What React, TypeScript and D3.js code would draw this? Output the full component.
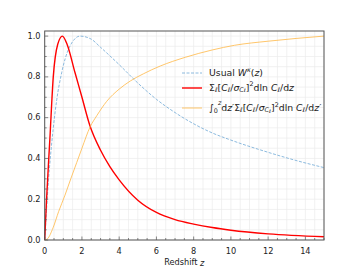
import React from 'react';
import * as d3 from 'd3';

const usualZ = [0, 0.1, 0.2, 0.3, 0.45, 0.65, 0.91, 1.3, 1.9, 2.5, 3, 4, 5, 6, 7, 8, 9, 10, 12, 13.5, 15];
const usualW = [0, 0.15, 0.29, 0.4, 0.54, 0.69, 0.82, 0.94, 1.0, 0.985, 0.945, 0.86, 0.77, 0.69, 0.625, 0.57, 0.525, 0.49, 0.43, 0.39, 0.355];

const sumZ = [0, 0.1, 0.28, 0.46, 0.7, 0.95, 1.2, 1.63, 2.0, 2.43, 3, 3.5, 4, 5, 6, 7, 8, 9, 10, 12, 15];
const sumW = [0, 0.2, 0.5, 0.8, 0.96, 1.0, 0.96, 0.82, 0.7, 0.56, 0.44, 0.36, 0.295, 0.195, 0.135, 0.1, 0.078, 0.061, 0.048, 0.03, 0.016];

const cumZ = [0, 0.15, 0.45, 0.75, 1.09, 1.4, 1.72, 2.0, 2.44, 2.8, 3.33, 4, 4.6, 5.3, 6.2, 7.55, 9, 10.2, 12, 15];
const cumW = [0, 0.006, 0.06, 0.14, 0.22, 0.3, 0.38, 0.45, 0.555, 0.61, 0.68, 0.74, 0.78, 0.815, 0.853, 0.896, 0.932, 0.955, 0.975, 1.0];

const xTicks = [0, 2, 4, 6, 8, 10, 12, 14];
const yTicks = [0, 0.2, 0.4, 0.6, 0.8, 1.0];

type Seg = { t: string; it?: boolean; sh?: number; fs?: number };

const FS = 8.2;
const LFS = 9.3;

function MathText({ x, y, segs }: { x: number; y: number; segs: Seg[] }) {
    let prev = 0;
    return (
        <text x={x} y={y} fontSize={LFS} fontFamily="DejaVu Sans" fill="#222" dominantBaseline="middle">
            {segs.map((s, i) => {
                const sh = s.sh || 0;
                const dy = -(sh - prev);
                prev = sh;
                return (
                    <tspan key={i} dy={dy} fontStyle={s.it ? 'italic' : 'normal'} fontSize={s.fs || LFS}>
                        {s.t}
                    </tspan>
                );
            })}
        </text>
    );
}

export default function App() {
    const width = 360;
    const height = 270;
    const x = d3.scaleLinear().domain([0, 15]).range([44.7, 324]);
    const y = d3.scaleLinear().domain([0, 1.025]).range([240, 31]);

    const line = d3.line<[number, number]>()
        .x(d => x(d[0]))
        .y(d => y(d[1]))
        .curve(d3.curveMonotoneX);

    const pts = (zs: number[], vs: number[]) => zs.map((z, i) => [z, vs[i]] as [number, number]);

    const xMinor = d3.range(0, 15.01, 0.5);
    const yMinor = d3.range(0, 1.0251, 0.05);

    const sub = 6.4;
    const sub2 = 4.9;
    const legendRows = [
        { yy: 73, color: '#6fa8d6', w: 0.8, dash: '3,1.5' },
        { yy: 88, color: '#ff0000', w: 1.4, dash: undefined },
        { yy: 108, color: '#ffb845', w: 0.8, dash: undefined },
    ];

    const sigmaPart: Seg[] = [
        { t: 'Σ' }, { t: 'ℓ', it: true, sh: -2.2, fs: sub }, { t: '[' }, { t: 'C', it: true }, { t: 'ℓ', it: true, sh: -2.2, fs: sub },
        { t: '/' }, { t: 'σ', it: true }, { t: 'C', it: true, sh: -2.2, fs: sub }, { t: 'ℓ', it: true, sh: -3.8, fs: sub2 },
        { t: ']' }, { t: '2', sh: 3.4, fs: sub }, { t: 'dln ' }, { t: 'C', it: true }, { t: 'ℓ', it: true, sh: -2.2, fs: sub },
        { t: '/d' },
    ];

    return (
        <svg width={width} height={height} style={{ position: 'absolute', left: 0, top: 0 }}>
            <rect width={width} height={height} fill="white" />
            <g>
                {xMinor.map(t => (
                    <line key={'gx' + t} x1={x(t)} x2={x(t)} y1={y(0)} y2={y(1.025)} stroke="#ebebeb" strokeWidth={0.7} />
                ))}
                {yMinor.map(t => (
                    <line key={'gy' + t} x1={x(0)} x2={x(15)} y1={y(t)} y2={y(t)} stroke="#ebebeb" strokeWidth={0.7} />
                ))}
            </g>
            <path d={line(pts(usualZ, usualW)) || ''} fill="none" stroke="#6fa8d6" strokeWidth={0.8} strokeDasharray="3,1.5" />
            <path d={line(pts(sumZ, sumW)) || ''} fill="none" stroke="#ff0000" strokeWidth={1.4} />
            <path d={line(pts(cumZ, cumW)) || ''} fill="none" stroke="#ffb845" strokeWidth={0.8} />

            {xMinor.map(t => (
                <line key={'mx' + t} x1={x(t)} x2={x(t)} y1={240} y2={t % 2 === 0 ? 236.5 : 238} stroke="#555" strokeWidth={0.7} />
            ))}
            {yMinor.map(t => (
                <line key={'my' + t} x1={x(0)} x2={x(0) + (Math.abs(t * 5 - Math.round(t * 5)) < 1e-6 ? 3.5 : 2)} y1={y(t)} y2={y(t)} stroke="#555" strokeWidth={0.7} />
            ))}
            <rect x={x(0)} y={y(1.025)} width={x(15) - x(0)} height={y(0) - y(1.025)} fill="none" stroke="#555" strokeWidth={1} />

            <g fontFamily="DejaVu Sans" fontSize={FS} fill="#222">
                {xTicks.map(t => (
                    <text key={'xt' + t} x={x(t)} y={251} textAnchor="middle" dominantBaseline="middle">{t}</text>
                ))}
                {yTicks.map(t => (
                    <text key={'yt' + t} x={40.5} y={y(t)} textAnchor="end" dominantBaseline="middle">{t.toFixed(1)}</text>
                ))}
                <text x={x(7.5)} y={262.5} textAnchor="middle" dominantBaseline="middle">
                    Redshift <tspan fontStyle="italic">z</tspan>
                </text>
            </g>

            {legendRows.map((r, i) => (
                <line key={'lg' + i} x1={182} x2={202} y1={r.yy} y2={r.yy} stroke={r.color} strokeWidth={r.w} strokeDasharray={r.dash} />
            ))}
            <MathText x={209} y={73} segs={[
                { t: 'Usual ' }, { t: 'W', it: true }, { t: 'κ', it: true, sh: 3.4, fs: sub }, { t: '(' }, { t: 'z', it: true }, { t: ')' },
            ]} />
            <MathText x={209} y={87.5} segs={[...sigmaPart, { t: 'z', it: true }]} />
            <MathText x={209} y={108} segs={[
                { t: '∫' }, { t: '0', sh: -3.2, fs: sub }, { t: 'z', it: true, sh: 5, fs: sub }, { t: 'd' }, { t: 'z′', it: true },
                ...sigmaPart, { t: 'z′', it: true },
            ]} />
        </svg>
    );
}
